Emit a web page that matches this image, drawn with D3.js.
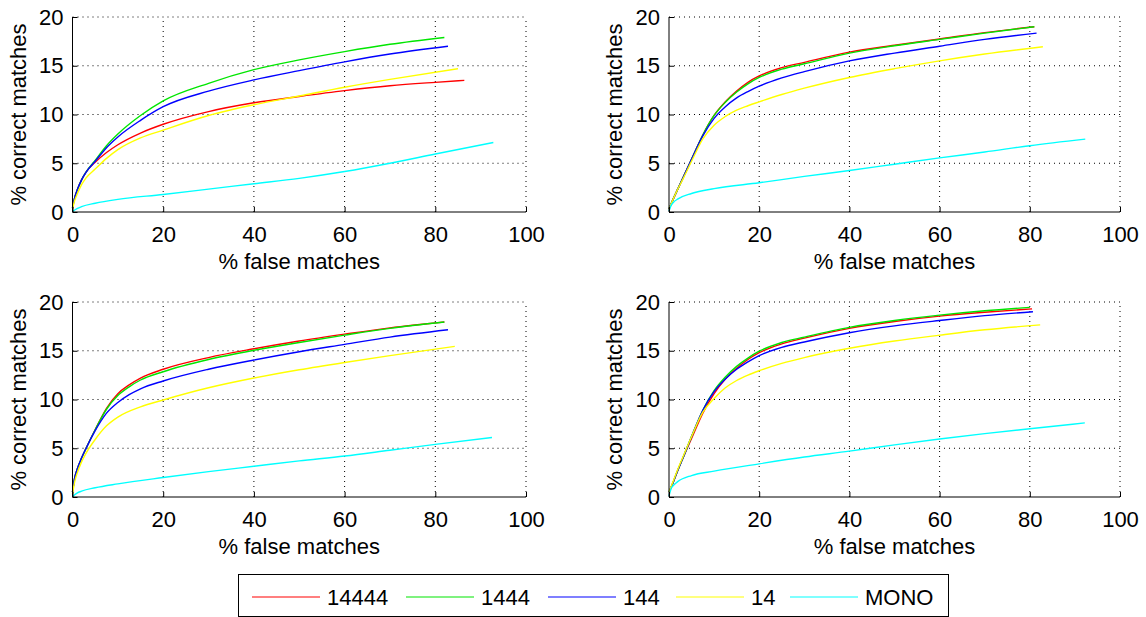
<!DOCTYPE html>
<html><head><meta charset="utf-8">
<script src="https://cdn.jsdelivr.net/npm/d3@7"></script>
<style>
body{margin:0;background:#fff;}
svg{display:block;font-family:"Liberation Sans",Arial,Helvetica,sans-serif;}
</style></head>
<body><svg id="chart" width="1146" height="617"></svg>
<script>
// ---------- data ----------
const seriesNames = ["14444","1444","144","14","MONO"];
const seriesColors = ["#ff0000","#00e600","#0000ff","#ffff00","#00ffff"];
const xTicks = [0,20,40,60,80,100];
const yTicks = [0,5,10,15,20];
const xLabel = "% false matches";
const yLabel = "% correct matches";

// panel A (top-left)
const a_14444 = [[0,0.4],[0.5,1.5],[1,2.2],[2,3.3],[3,4.1],[5,5.1],[7.5,6.1],[10,6.9],[15,8.1],[20,9.0],[30,10.3],[40,11.2],[50,11.85],[60,12.45],[70,12.95],[80,13.3],[86.4,13.5]];
const a_1444  = [[0,0.4],[0.5,1.5],[1,2.2],[2,3.3],[3,4.1],[5,5.3],[7.5,6.8],[10,8.0],[15,9.9],[20,11.4],[30,13.2],[40,14.6],[50,15.6],[60,16.45],[70,17.2],[82,17.9]];
const a_144   = [[0,0.4],[0.5,1.5],[1,2.2],[2,3.3],[3,4.1],[5,5.2],[7.5,6.6],[10,7.7],[15,9.4],[20,10.8],[30,12.4],[40,13.55],[50,14.5],[60,15.4],[70,16.2],[82.8,17.0]];
const a_14    = [[0,0.3],[0.5,1.2],[1,1.8],[2,2.8],[3,3.5],[5,4.4],[7.5,5.5],[10,6.4],[15,7.6],[20,8.4],[30,9.9],[40,11.0],[50,11.9],[60,12.8],[70,13.6],[85,14.7]];
const a_MONO  = [[0,0.05],[1,0.35],[2,0.55],[5,0.9],[10,1.3],[20,1.8],[30,2.35],[40,2.9],[50,3.45],[60,4.15],[70,5.0],[80,5.95],[92.8,7.13]];

// panel B (top-right)
const b_14444 = [[0,0.3],[1,1.4],[2,2.4],[3,3.4],[5,5.4],[7.5,7.9],[10,9.9],[12.5,11.3],[15,12.4],[17.5,13.3],[20,13.95],[25,14.8],[30,15.35],[40,16.4],[50,17.1],[60,17.75],[70,18.4],[81,19.0]];
const b_1444  = [[0,0.3],[1,1.4],[2,2.4],[3,3.4],[5,5.4],[7.5,7.9],[10,9.9],[12.5,11.25],[15,12.3],[17.5,13.15],[20,13.8],[25,14.65],[30,15.2],[40,16.3],[50,17.05],[60,17.7],[70,18.35],[81,19.0]];
const b_144   = [[0,0.3],[1,1.4],[2,2.4],[3,3.4],[5,5.4],[7.5,7.8],[10,9.6],[12.5,10.8],[15,11.7],[17.5,12.35],[20,12.9],[25,13.75],[30,14.4],[40,15.5],[50,16.3],[60,17.0],[70,17.7],[81.5,18.35]];
const b_14    = [[0,0.3],[1,1.4],[2,2.4],[3,3.3],[5,5.2],[7.5,7.5],[10,8.9],[12.5,9.8],[15,10.45],[17.5,10.9],[20,11.3],[25,12.05],[30,12.7],[40,13.8],[50,14.7],[60,15.5],[70,16.2],[82.9,16.95]];
const b_MONO  = [[0,0.1],[0.5,0.7],[1,1.0],[2,1.35],[5,1.9],[10,2.4],[20,3.0],[30,3.65],[40,4.25],[50,4.9],[60,5.55],[70,6.15],[80,6.8],[92.3,7.47]];

// panel C (bottom-left)
const c_14444 = [[0,0.5],[0.5,2.0],[1,2.8],[2,4.0],[3,5.0],[5,6.9],[7.5,9.1],[10,10.6],[12.5,11.5],[15,12.2],[20,13.1],[30,14.3],[40,15.2],[50,16.0],[60,16.7],[70,17.35],[82,17.95]];
const c_1444  = [[0,0.5],[0.5,2.0],[1,2.8],[2,4.0],[3,5.0],[5,6.9],[7.5,9.0],[10,10.4],[12.5,11.3],[15,12.0],[20,12.85],[30,14.1],[40,15.05],[50,15.85],[60,16.6],[70,17.3],[82,17.95]];
const c_144   = [[0,0.5],[0.5,2.0],[1,2.8],[2,4.0],[3,5.0],[5,6.8],[7.5,8.6],[10,9.7],[12.5,10.5],[15,11.1],[20,11.9],[30,13.1],[40,14.05],[50,14.9],[60,15.65],[70,16.4],[82.8,17.15]];
const c_14    = [[0,0.3],[0.5,1.6],[1,2.4],[2,3.6],[3,4.5],[5,5.9],[7.5,7.3],[10,8.2],[15,9.25],[20,9.95],[30,11.2],[40,12.2],[50,13.05],[60,13.8],[70,14.5],[84.3,15.45]];
const c_MONO  = [[0,0.05],[1,0.4],[2,0.6],[5,0.95],[10,1.35],[20,2.0],[30,2.6],[40,3.15],[50,3.7],[60,4.2],[70,4.8],[80,5.4],[92.5,6.1]];

// panel D (bottom-right)
const d_14444 = [[0,0.5],[1,1.6],[2,2.8],[3,3.9],[5,6.0],[7.5,8.6],[10,10.6],[12.5,12.1],[15,13.2],[17.5,14.1],[20,14.8],[25,15.7],[30,16.3],[40,17.3],[50,18.0],[60,18.55],[70,18.95],[80.5,19.3]];
const d_1444  = [[0,0.5],[1,1.6],[2,2.8],[3,3.9],[5,6.2],[7.5,8.9],[10,10.9],[12.5,12.3],[15,13.4],[17.5,14.25],[20,14.95],[25,15.85],[30,16.4],[40,17.4],[50,18.1],[60,18.65],[70,19.1],[80,19.45]];
const d_144   = [[0,0.5],[1,1.6],[2,2.8],[3,3.9],[5,6.2],[7.5,8.9],[10,10.8],[12.5,12.1],[15,13.1],[17.5,13.85],[20,14.5],[25,15.35],[30,15.9],[40,16.85],[50,17.55],[60,18.1],[70,18.6],[80.7,19.0]];
const d_14    = [[0,0.5],[1,1.7],[2,2.9],[3,4.0],[5,6.2],[7.5,8.7],[10,10.1],[12.5,11.2],[15,11.95],[17.5,12.5],[20,12.95],[25,13.7],[30,14.3],[40,15.25],[50,16.0],[60,16.6],[70,17.15],[82.3,17.65]];
const d_MONO  = [[0,0.1],[0.5,0.9],[1,1.2],[2,1.6],[5,2.2],[10,2.65],[20,3.4],[30,4.1],[40,4.7],[50,5.35],[60,5.95],[70,6.5],[80,7.0],[92.2,7.6]];

const panels = [
  {series:[a_14444,a_1444,a_144,a_14,a_MONO], x0:72.5, x1:526, y0:212, y1:17},
  {series:[b_14444,b_1444,b_144,b_14,b_MONO], x0:669, x1:1120, y0:212, y1:17},
  {series:[c_14444,c_1444,c_144,c_14,c_MONO], x0:72.5, x1:526, y0:497, y1:302},
  {series:[d_14444,d_1444,d_144,d_14,d_MONO], x0:669, x1:1120, y0:497, y1:302}
];

// ---------- drawing ----------
const svg = d3.select("#chart");
const FS = 22;

panels.forEach(p => {
  const x = d3.scaleLinear().domain([0,100]).range([p.x0,p.x1]);
  const y = d3.scaleLinear().domain([0,20]).range([p.y0,p.y1]);
  const g = svg.append("g");

  // grid (dotted) incl. top and right edges
  g.append("g").selectAll("line").data(xTicks.filter(t=>t>0)).join("line")
    .attr("x1",d=>x(d)).attr("x2",d=>x(d)).attr("y1",y(0)).attr("y2",y(20))
    .attr("stroke","#000").attr("stroke-width",1).attr("stroke-dasharray","1,4");
  g.append("g").selectAll("line").data(yTicks.filter(t=>t>0)).join("line")
    .attr("x1",x(0)).attr("x2",x(100)).attr("y1",d=>y(d)).attr("y2",d=>y(d))
    .attr("stroke","#000").attr("stroke-width",1).attr("stroke-dasharray","1,4");

  // curves
  const line = d3.line().x(d=>x(d[0])).y(d=>y(d[1])).curve(d3.curveMonotoneX);
  p.series.forEach((s,i)=>{
    g.append("path").datum(s).attr("d",line).attr("fill","none")
      .attr("stroke",seriesColors[i]).attr("stroke-width",1.4);
  });

  // axes
  const xa = g.append("g").attr("transform",`translate(0,${p.y0})`)
    .call(d3.axisBottom(x).tickValues(xTicks).tickSize(-5).tickPadding(14).tickFormat(d3.format("d")));
  const ya = g.append("g").attr("transform",`translate(${p.x0},0)`)
    .call(d3.axisLeft(y).tickValues(yTicks).tickSize(-5).tickPadding(9).tickFormat(d3.format("d")));
  [xa,ya].forEach(a=>{
    a.select(".domain").attr("stroke","#000").attr("stroke-width",1);
    a.selectAll(".tick line").attr("stroke","#000");
    a.selectAll("text").attr("font-size",FS).attr("fill","#000").attr("font-family","Liberation Sans, Arial, sans-serif");
  });
  xa.select(".domain").attr("d",`M${p.x0},0H${p.x1}`);
  ya.select(".domain").attr("d",`M0,${p.y0}V${p.y1}`);

  // labels
  g.append("text").attr("x",(p.x0+p.x1)/2).attr("y",p.y0+57)
    .attr("text-anchor","middle").attr("font-size",FS).text(xLabel);
  g.append("text").attr("transform",`translate(${p.x0-47},${(p.y0+p.y1)/2}) rotate(-90)`)
    .attr("text-anchor","middle").attr("font-size",FS).text(yLabel);
});

// legend
const lg = svg.append("g");
lg.append("rect").attr("x",238.5).attr("y",574.5).attr("width",710).attr("height",42)
  .attr("fill","#fff").attr("stroke","#000").attr("stroke-width",1);
const legX = [252,406,548,676,790];
seriesNames.forEach((n,i)=>{
  lg.append("line").attr("x1",legX[i]).attr("x2",legX[i]+68).attr("y1",597).attr("y2",597)
    .attr("stroke",seriesColors[i]).attr("stroke-width",1.2);
  lg.append("text").attr("x",legX[i]+75).attr("y",605).attr("font-size",FS).text(n);
});
</script></body></html>
